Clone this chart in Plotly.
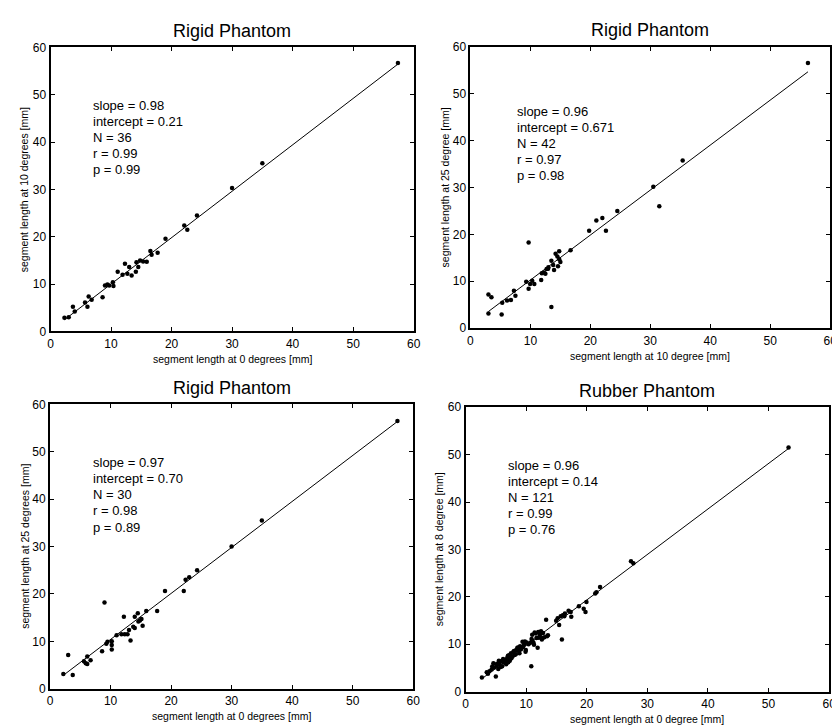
import plotly.graph_objects as go

W, H = 840, 725

# ---------------- data ----------------
p1_x = [2.3, 3.0, 3.7, 4.0, 5.7, 6.1, 6.3, 6.8, 8.6, 9.0, 9.4, 9.7, 10.3, 10.4,
        11.1, 11.9, 12.3, 12.7, 13.0, 13.4, 14.1, 14.2, 14.5, 14.8, 15.3, 15.9,
        16.5, 16.7, 17.7, 19.0, 22.1, 22.6, 24.2, 30.0, 35.0, 57.4]
p1_y = [2.9, 3.0, 5.2, 4.2, 6.1, 5.2, 7.4, 6.7, 7.2, 9.7, 9.9, 9.7, 10.4, 9.6,
        12.6, 12.0, 14.3, 12.2, 13.6, 11.8, 12.6, 14.6, 13.6, 15.0, 14.8, 14.7,
        17.0, 16.2, 16.6, 19.6, 22.4, 21.5, 24.5, 30.3, 35.5, 56.7]

p2_x = [3.0, 3.0, 3.5, 5.2, 5.3, 6.1, 6.75, 7.25, 7.5, 9.3, 9.7, 9.7, 9.95, 10.3,
        10.65, 11.8, 11.9, 12.25, 12.5, 12.7, 12.95, 13.0, 13.5, 13.5, 13.8, 13.95,
        14.2, 14.5, 14.6, 14.8, 14.8, 15.0, 16.7, 19.8, 21.0, 22.0, 22.6, 24.5,
        30.5, 31.5, 35.4, 56.3]
p2_y = [3.1, 7.2, 6.6, 2.9, 5.4, 5.9, 6.0, 8.0, 6.9, 9.9, 8.4, 18.3, 9.4, 10.1,
        9.4, 10.3, 11.7, 11.9, 11.6, 12.6, 12.7, 13.0, 4.5, 14.4, 13.5, 12.4,
        15.9, 15.3, 13.2, 16.4, 14.7, 14.1, 16.6, 20.8, 23.0, 23.5, 20.8, 25.0,
        30.2, 26.0, 35.8, 56.6]

p3_x = [2.2, 3.0, 3.75, 5.6, 5.9, 6.15, 6.15, 6.7, 8.6, 9.0, 9.3, 9.5, 10.2, 10.2,
        10.2, 11.0, 11.8, 12.2, 12.35, 12.8, 13.05, 13.3, 13.75, 14.0, 14.0, 14.5,
        14.6, 14.85, 15.1, 15.3, 15.9, 17.7, 19.0, 22.1, 22.4, 23.0, 24.3, 30.0,
        35.0, 57.4]
p3_y = [3.1, 7.1, 2.9, 5.8, 5.4, 6.8, 5.2, 6.0, 7.9, 18.2, 9.5, 9.9, 10.0, 9.2,
        8.3, 11.3, 11.5, 15.2, 11.5, 11.5, 12.4, 10.2, 13.1, 12.8, 15.2, 15.9,
        14.2, 14.4, 14.7, 13.3, 16.4, 16.4, 20.6, 20.6, 23.0, 23.5, 25.0, 30.0,
        35.5, 56.5]

p4_x = [2.7, 3.7, 3.95, 4.3, 4.6, 4.75, 5.0, 5.15, 5.4, 5.6, 5.85, 6.05, 6.3, 6.5,
        6.7, 6.9, 7.05, 7.2, 7.4, 7.5, 7.75, 7.9, 8.1, 8.35, 8.55, 8.8, 9.0, 9.2,
        9.4, 9.65, 9.95, 9.9, 10.85, 10.7, 11.0, 11.3, 11.4, 11.7, 11.9, 12.0,
        12.25, 12.45, 12.6, 13.0, 13.3, 13.45, 14.95, 15.45, 15.7, 15.9, 16.05,
        16.4, 17.35, 17.45, 18.7, 19.5, 19.8, 19.95, 21.4, 21.6, 22.2,
        5.2, 5.8, 6.2, 6.6, 7.0, 7.3, 7.6, 8.0, 8.3, 8.7, 9.1, 9.5, 10.1, 10.4,
        10.9, 11.2, 11.6, 12.1, 12.3, 12.8, 4.4, 3.5, 5.5, 6.8, 8.9, 9.8, 11.0,
        12.7, 13.6, 15.2, 16.3, 17.0, 27.3, 27.7, 53.3]
p4_y = [3.0, 3.8, 4.3, 4.7, 6.0, 5.1, 3.2, 5.5, 4.8, 5.8, 6.4, 5.35, 6.2, 6.7,
        5.8, 7.2, 6.2, 7.7, 6.85, 8.1, 7.4, 8.4, 7.75, 8.8, 9.25, 8.6, 9.6, 9.05,
        10.55, 9.9, 8.8, 8.4, 5.35, 10.3, 10.8, 9.9, 12.5, 11.3, 9.25, 12.6,
        11.8, 12.75, 11.0, 11.5, 15.2, 11.7, 14.95, 14.05, 15.9, 11.0, 16.1,
        16.5, 16.8, 15.8, 18.0, 17.5, 16.8, 18.9, 20.7, 21.0, 22.1,
        5.9, 5.2, 6.9, 6.1, 7.6, 6.5, 7.1, 8.6, 7.9, 9.3, 8.9, 9.4, 10.4, 10.0,
        11.1, 10.4, 12.3, 11.4, 12.2, 12.4, 5.3, 4.1, 6.5, 6.6, 8.1, 10.6, 12.0,
        11.3, 11.9, 15.5, 15.9, 17.1, 27.5, 27.1, 51.5]

slopes = [0.98, 0.96, 0.97, 0.96]
intercepts = [0.21, 0.671, 0.70, 0.14]
stat_lines = [
    ["slope = 0.98", "intercept = 0.21", "N = 36", "r = 0.99", "p = 0.99"],
    ["slope = 0.96", "intercept = 0.671", "N = 42", "r = 0.97", "p = 0.98"],
    ["slope = 0.97", "intercept = 0.70", "N = 30", "r = 0.98", "p = 0.89"],
    ["slope = 0.96", "intercept = 0.14", "N = 121", "r = 0.99", "p = 0.76"],
]
titles = ["Rigid Phantom", "Rigid Phantom", "Rigid Phantom", "Rubber Phantom"]
x_titles = ["segment length at 0 degrees [mm]", "segment length at 10 degree [mm]",
            "segment length at 0 degrees [mm]", "segment length at 0 degree [mm]"]
y_titles = ["segment length at 10 degrees [mm]", "segment length at 25 degree [mm]",
            "segment length at 25 degrees [mm]", "segment length at 8 degree [mm]"]
tick_vals = [0, 10, 20, 30, 40, 50, 60]

# ---------------- layout geometry (pixels) ----------------
boxes = [  # left, right, top, bottom
    (40, 407.5, 33, 322.7),
    (465, 829, 32.7, 319.3),
    (39.5, 407, 397, 687),
    (460, 828, 400, 690),
]
text_pos = [(6.7, 47.8), (7.4, 46.3), (6.7, 47.8), (6.7, 47.8)]
line_step = 3.42

FONT = "Liberation Sans, Arial, Helvetica, sans-serif"

def px2x(px):
    return px / W

def px2y(py):
    return 1 - py / H

fig = go.Figure()
xs = [p1_x, p2_x, p3_x, p4_x]
ys = [p1_y, p2_y, p3_y, p4_y]
annotations = []

for i in range(4):
    n = i + 1
    xa = "x" if n == 1 else f"x{n}"
    ya = "y" if n == 1 else f"y{n}"
    x, y = xs[i], ys[i]
    fig.add_trace(go.Scatter(x=x, y=y, mode="markers", xaxis=xa, yaxis=ya,
                             marker=dict(color="black", size=4.5), showlegend=False,
                             hoverinfo="x+y"))
    x0, x1 = min(x), max(x)
    fig.add_trace(go.Scatter(x=[x0, x1],
                             y=[slopes[i] * x0 + intercepts[i], slopes[i] * x1 + intercepts[i]],
                             mode="lines", xaxis=xa, yaxis=ya,
                             line=dict(color="black", width=1), showlegend=False))
    l, r, t, b = boxes[i]
    axcommon = dict(range=[0, 60], tickvals=tick_vals, ticks="inside", ticklen=4,
                    tickcolor="black", tickwidth=1, showline=True, linecolor="black",
                    linewidth=2, mirror="ticks", showgrid=False, zeroline=False,
                    tickfont=dict(family=FONT, size=12, color="black"))
    fig.layout[f"xaxis{'' if n == 1 else n}"] = dict(
        domain=[px2x(l), px2x(r)], anchor=ya, **axcommon)
    fig.layout[f"yaxis{'' if n == 1 else n}"] = dict(
        domain=[px2y(b), px2y(t)], anchor=xa, **axcommon)

    # panel title
    annotations.append(dict(text=titles[i], x=px2x((l + r) / 2), y=px2y(t - 17),
                            xref="paper", yref="paper", showarrow=False,
                            xanchor="center", yanchor="middle",
                            font=dict(family=FONT, size=18, color="black")))
    # axis titles
    annotations.append(dict(text=x_titles[i], x=px2x((l + r) / 2), y=px2y(b + 28),
                            xref="paper", yref="paper", showarrow=False,
                            xanchor="center", yanchor="middle",
                            font=dict(family=FONT, size=10.5, color="black")))
    annotations.append(dict(text=y_titles[i], x=px2x(l - 26), y=px2y((t + b) / 2),
                            xref="paper", yref="paper", showarrow=False, textangle=-90,
                            xanchor="center", yanchor="middle",
                            font=dict(family=FONT, size=10.5, color="black")))
    # statistics text
    tx, ty = text_pos[i]
    for k, s in enumerate(stat_lines[i]):
        annotations.append(dict(text=s, x=tx, y=ty - k * line_step, xref=xa, yref=ya,
                                showarrow=False, xanchor="left", yanchor="middle",
                                font=dict(family=FONT, size=13, color="black")))

fig.update_layout(width=W, height=H, margin=dict(l=0, r=0, t=0, b=0),
                  paper_bgcolor="white", plot_bgcolor="white",
                  annotations=annotations, showlegend=False)

fig.write_html("out.html")
